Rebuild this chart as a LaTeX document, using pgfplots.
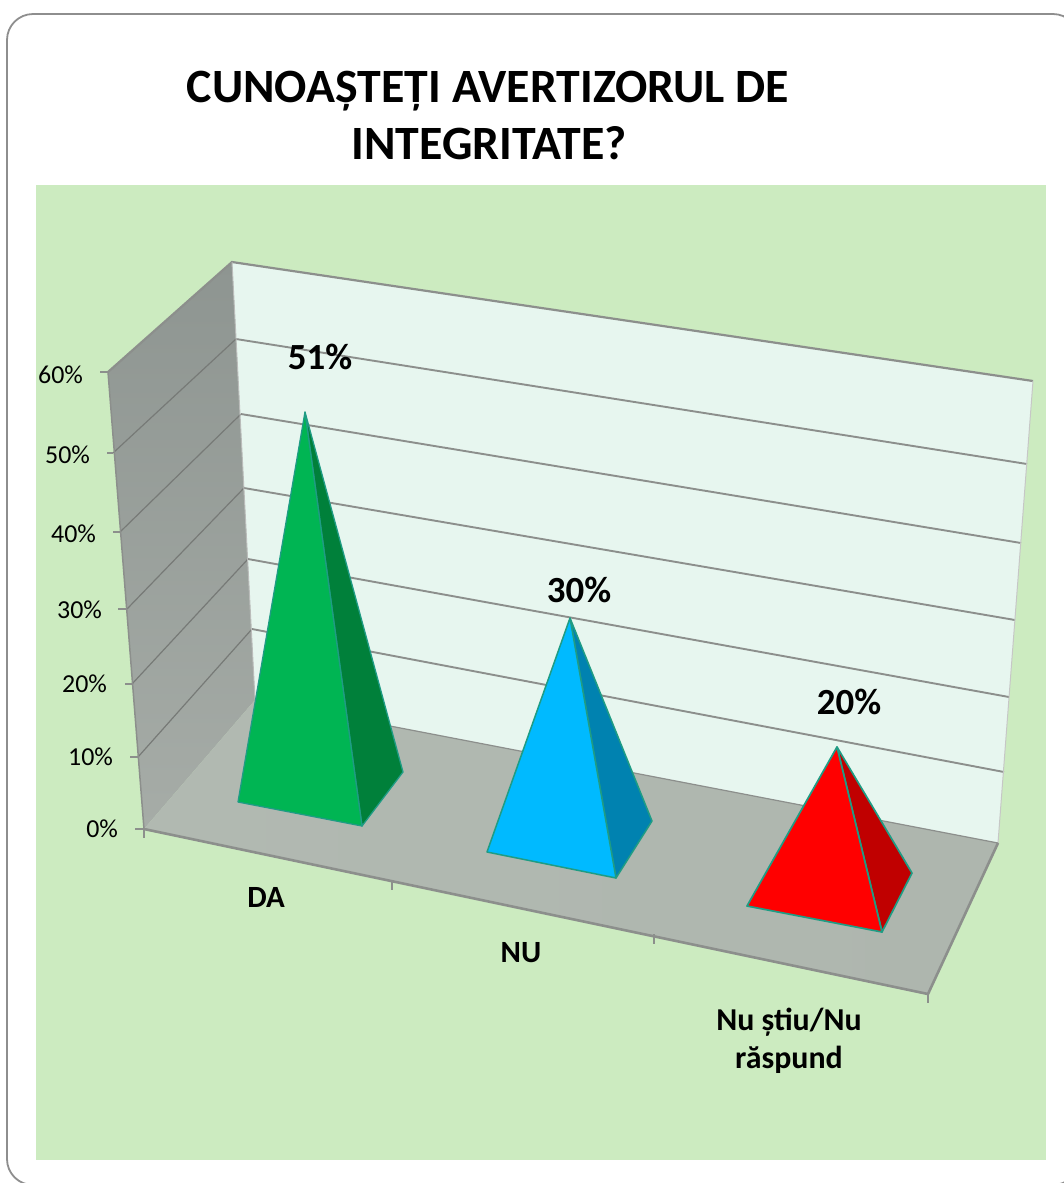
\documentclass[border=0pt]{standalone}
\usepackage{pgfplots}
\pgfplotsset{compat=1.18}
\usepackage{fontspec}
\setmainfont{Carlito}
\definecolor{panel}{HTML}{CCEBC0}
\definecolor{backw}{HTML}{E7F6EF}
\definecolor{wallT}{HTML}{8E9591}
\definecolor{wallB}{HTML}{A6ACA7}
\definecolor{floorc}{HTML}{AEB6AE}
\definecolor{gridc}{HTML}{8C8F8C}
\definecolor{edgec}{HTML}{1F9C84}
\definecolor{frameC}{HTML}{8E8E8E}
\definecolor{gF}{HTML}{00B553}
\definecolor{gD}{HTML}{00803A}
\definecolor{bF}{HTML}{00BAFF}
\definecolor{bD}{HTML}{0082B0}
\definecolor{rF}{HTML}{FF0000}
\definecolor{rD}{HTML}{C00000}
\newcommand{\fs}[1]{\fontsize{#1}{#1}\selectfont}
\tikzset{tx/.style={anchor=base, inner sep=0pt, outer sep=0pt, text=black},
         tk/.style={anchor=base east, inner sep=0pt, outer sep=0pt, text=black}}
\begin{document}
\begin{tikzpicture}
\useasboundingbox (0,0) rectangle (1064bp,1183bp);
\begin{axis}[
  scale only axis, width=1064bp, height=1183bp,
  xmin=0, xmax=1064, ymin=0, ymax=1183, y dir=reverse,
  axis lines=none, ticks=none,
]
% slide frame and panel
\addplot[draw=frameC, line width=1.8bp, rounded corners=26bp] coordinates {(7,1185) (7,14) (1079,14) (1079,1185)} --cycle;
\addplot[fill=panel, draw=none] coordinates {(36,185) (1046,185) (1046,1160) (36,1160)} --cycle;
% walls
\addplot[fill=backw, draw=none] coordinates {(232,262) (1033,381) (998,843) (255,700)} --cycle;
\addplot[top color=wallT, bottom color=wallB, draw=none] coordinates {(108,372) (232,262) (255,700) (144,829)} --cycle;
% gridlines, back wall
\addplot[gridc, line width=1.9bp] coordinates {(236,339) (1027,464)};
\addplot[gridc, line width=1.9bp] coordinates {(241,414) (1021,543)};
\addplot[gridc, line width=1.9bp] coordinates {(244,488) (1015,620)};
\addplot[gridc, line width=1.9bp] coordinates {(248,559) (1009,697)};
\addplot[gridc, line width=1.9bp] coordinates {(252,629) (1004,772)};
% gridlines, left wall
\addplot[gridc!85!black, line width=1.2bp] coordinates {(113,453) (236,339)};
\addplot[gridc!85!black, line width=1.2bp] coordinates {(120,532) (241,414)};
\addplot[gridc!85!black, line width=1.2bp] coordinates {(127,609) (244,488)};
\addplot[gridc!85!black, line width=1.2bp] coordinates {(132,684) (248,559)};
\addplot[gridc!85!black, line width=1.2bp] coordinates {(138,757) (252,629)};
% floor
\addplot[left color=floorc!96!white, right color=floorc, draw=none] coordinates {(144,829) (255,700) (998,843) (928,994)} --cycle;
% wall outlines
\addplot[gridc, line width=2.2bp] coordinates {(108,372) (232,262) (1033,381)};
\addplot[gridc, line width=1.5bp] coordinates {(108,372) (144,829)};
\addplot[gridc!60!white, line width=1bp] coordinates {(232,262) (255,700)};
\addplot[gridc!50!white, line width=1bp] coordinates {(1033,381) (998,843)};
\addplot[gridc, line width=1.2bp] coordinates {(255,700) (998,843)};
\addplot[gridc, line width=2.6bp] coordinates {(144,829) (928,994) (998,843)};
% ticks
\addplot[gridc, line width=1.6bp] coordinates {(100,372) (108,372)};
\addplot[gridc, line width=1.6bp] coordinates {(107,453) (113,453)};
\addplot[gridc, line width=1.6bp] coordinates {(113,532) (120,532)};
\addplot[gridc, line width=1.6bp] coordinates {(118,609) (127,609)};
\addplot[gridc, line width=1.6bp] coordinates {(125,684) (132,684)};
\addplot[gridc, line width=1.6bp] coordinates {(130,757) (138,757)};
\addplot[gridc, line width=1.6bp] coordinates {(135,829) (144,829)};
\addplot[gridc, line width=1.6bp] coordinates {(144,829) (144,838)};
\addplot[gridc, line width=1.6bp] coordinates {(392,880) (392,890)};
\addplot[gridc, line width=1.6bp] coordinates {(654,934) (654,944)};
\addplot[gridc, line width=1.6bp] coordinates {(928,994) (928,1003)};
% DA 51%
\addplot[fill=gD, draw=edgec, line width=1.3bp, line join=round] coordinates {(305,412) (403,772) (362,826)} --cycle;
\addplot[fill=gF, draw=edgec, line width=1.3bp, line join=round] coordinates {(305,412) (362,826) (238,802)} --cycle;
% NU 30%
\addplot[fill=bD, draw=edgec, line width=1.5bp, line join=round] coordinates {(570,618) (652,821) (616,878)} --cycle;
\addplot[fill=bF, draw=edgec, line width=1.5bp, line join=round] coordinates {(570,618) (616,878) (487,852)} --cycle;
% Nu stiu 20%
\addplot[fill=rD, draw=edgec, line width=1.7bp, line join=round] coordinates {(837,747) (912,873) (882,932)} --cycle;
\addplot[fill=rF, draw=edgec, line width=1.7bp, line join=round] coordinates {(837,747) (882,932) (747,906)} --cycle;
% title
\node[tx] at (axis cs:488,102) {\fs{48}\bfseries CUNOAȘTEȚI AVERTIZORUL DE};
\node[tx] at (axis cs:489,159) {\fs{48}\bfseries INTEGRITATE?};
% value axis labels
\node[tk] at (axis cs:83,383)  {\fs{26}60\%};
\node[tk] at (axis cs:90,463)  {\fs{26}50\%};
\node[tk] at (axis cs:96,542)  {\fs{26}40\%};
\node[tk] at (axis cs:102,618) {\fs{26}30\%};
\node[tk] at (axis cs:107,692) {\fs{26}20\%};
\node[tk] at (axis cs:113,765) {\fs{26}10\%};
\node[tk] at (axis cs:118,837) {\fs{26}0\%};
% data labels
\node[tx] at (axis cs:320,369) {\fs{37}\bfseries 51\%};
\node[tx] at (axis cs:579,602) {\fs{37}\bfseries 30\%};
\node[tx] at (axis cs:849,714) {\fs{37}\bfseries 20\%};
% categories
\node[tx] at (axis cs:266,907) {\fs{31}\bfseries DA};
\node[tx] at (axis cs:521,962) {\fs{31}\bfseries NU};
\node[tx] at (axis cs:789,1030) {\fs{32}\bfseries Nu știu/Nu};
\node[tx] at (axis cs:789,1068) {\fs{32}\bfseries răspund};
\end{axis}
\end{tikzpicture}
\end{document}
